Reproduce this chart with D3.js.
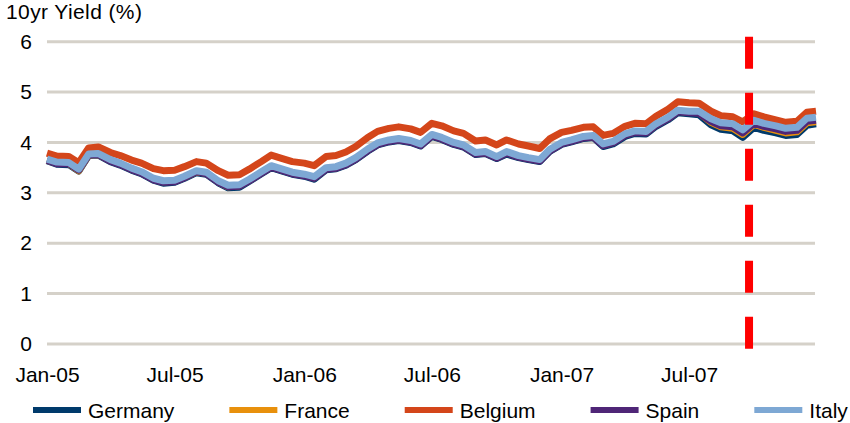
<!DOCTYPE html>
<html>
<head>
<meta charset="utf-8">
<script src="https://cdn.jsdelivr.net/npm/d3@7"></script>
<style>
  body { margin: 0; background: #fff; }
  svg text { font-family: "Liberation Sans", Arial, sans-serif; fill: #000; }
</style>
</head>
<body>
<svg id="chart" width="850" height="423"></svg>
<script>
const dates = [
  "2005-01-01","2005-01-15","2005-02-01","2005-02-15","2005-03-01","2005-03-15","2005-04-01","2005-04-15",
  "2005-05-01","2005-05-15","2005-06-01","2005-06-15","2005-07-01","2005-07-15","2005-08-01","2005-08-15",
  "2005-09-01","2005-09-15","2005-10-01","2005-10-15","2005-11-01","2005-11-15","2005-12-01","2005-12-15",
  "2006-01-01","2006-01-15","2006-02-01","2006-02-15","2006-03-01","2006-03-15","2006-04-01","2006-04-15",
  "2006-05-01","2006-05-15","2006-06-01","2006-06-15","2006-07-01","2006-07-15","2006-08-01","2006-08-15",
  "2006-09-01","2006-09-15","2006-10-01","2006-10-15","2006-11-01","2006-11-15","2006-12-01","2006-12-15",
  "2007-01-01","2007-01-15","2007-02-01","2007-02-15","2007-03-01","2007-03-15","2007-04-01","2007-04-15",
  "2007-05-01","2007-05-15","2007-06-01","2007-06-15","2007-07-01","2007-07-15","2007-08-01","2007-08-15",
  "2007-09-01","2007-09-15","2007-10-01","2007-10-15","2007-11-01","2007-11-15","2007-12-01","2007-12-15",
  "2007-12-28"
];

const germany = [
  3.64,3.57,3.56,3.43,3.74,3.75,3.62,3.55,3.45,3.38,3.25,3.19,3.21,3.29,3.40,3.37,3.20,3.10,3.11,3.23,3.38,3.50,3.43,3.37,
  3.33,3.27,3.46,3.48,3.55,3.66,3.83,3.95,4.01,4.04,4.00,3.93,4.12,4.06,3.96,3.91,3.76,3.78,3.68,3.77,3.70,3.66,3.62,3.82,
  3.96,4.01,4.08,4.10,3.92,3.97,4.12,4.18,4.17,4.32,4.45,4.59,4.57,4.55,4.35,4.26,4.23,4.10,4.30,4.24,4.19,4.14,4.16,4.34,4.37
];
const france = [
  3.65,3.59,3.58,3.44,3.75,3.76,3.64,3.57,3.47,3.40,3.27,3.22,3.23,3.31,3.42,3.39,3.22,3.12,3.14,3.25,3.40,3.52,3.45,3.39,
  3.35,3.30,3.48,3.50,3.57,3.68,3.85,3.97,4.03,4.06,4.02,3.95,4.14,4.08,3.98,3.93,3.78,3.80,3.70,3.80,3.72,3.68,3.64,3.84,
  3.98,4.03,4.10,4.12,3.95,4.00,4.15,4.21,4.20,4.35,4.48,4.62,4.60,4.59,4.40,4.31,4.28,4.16,4.36,4.30,4.24,4.19,4.21,4.39,4.41
];
const belgium = [
  3.79,3.73,3.72,3.60,3.89,3.91,3.80,3.74,3.65,3.59,3.48,3.44,3.45,3.52,3.62,3.59,3.44,3.35,3.36,3.47,3.62,3.75,3.68,3.62,
  3.59,3.54,3.72,3.74,3.81,3.92,4.10,4.22,4.28,4.31,4.27,4.20,4.38,4.33,4.23,4.18,4.03,4.05,3.95,4.05,3.97,3.93,3.88,4.07,
  4.20,4.24,4.30,4.31,4.14,4.18,4.32,4.38,4.37,4.52,4.66,4.81,4.79,4.78,4.62,4.53,4.51,4.41,4.57,4.51,4.45,4.40,4.42,4.60,4.62
];
const spain = [
  3.65,3.58,3.58,3.45,3.75,3.76,3.63,3.56,3.46,3.39,3.26,3.21,3.22,3.30,3.42,3.38,3.21,3.12,3.13,3.24,3.39,3.51,3.44,3.38,
  3.34,3.29,3.47,3.49,3.56,3.67,3.84,3.96,4.02,4.05,4.01,3.94,4.13,4.07,3.97,3.92,3.77,3.79,3.69,3.79,3.71,3.67,3.63,3.83,
  3.97,4.02,4.09,4.11,3.94,3.99,4.14,4.20,4.19,4.34,4.47,4.61,4.59,4.58,4.42,4.33,4.31,4.19,4.38,4.32,4.27,4.22,4.24,4.42,4.44
];
const italy = [
  3.67,3.61,3.60,3.47,3.77,3.78,3.66,3.59,3.49,3.42,3.29,3.24,3.25,3.33,3.44,3.41,3.24,3.15,3.16,3.27,3.42,3.54,3.47,3.41,
  3.37,3.32,3.50,3.52,3.59,3.70,3.87,3.99,4.05,4.08,4.04,3.97,4.16,4.10,4.00,3.95,3.80,3.82,3.72,3.82,3.74,3.70,3.66,3.86,
  4.00,4.05,4.12,4.14,3.97,4.02,4.17,4.23,4.22,4.37,4.50,4.64,4.62,4.62,4.47,4.39,4.37,4.25,4.44,4.38,4.33,4.28,4.30,4.48,4.50
];

const seriesNames = ["Germany", "France", "Belgium", "Spain", "Italy"];
const seriesColors = ["#003a6b", "#e8900c", "#d4461a", "#4f2677", "#7ea8d4"];
const seriesValues = [germany, france, belgium, spain, italy];
const yTicks = [0, 1, 2, 3, 4, 5, 6];
const xTicks = ["2005-01-01","2005-07-01","2006-01-01","2006-07-01","2007-01-01","2007-07-01"];
const markerDate = "2007-09-24";

const parse = d3.timeParse("%Y-%m-%d");
const svg = d3.select("#chart");

const x = d3.scaleTime()
    .domain([parse("2005-01-01"), parse("2007-12-28")])
    .range([47, 816]);
const y = d3.scaleLinear()
    .domain([0, 6])
    .range([344, 41.7]);

// gridlines
svg.append("g")
    .selectAll("line")
    .data(yTicks)
    .enter()
    .append("line")
    .attr("x1", x.range()[0])
    .attr("x2", 815)
    .attr("y1", d => y(d))
    .attr("y2", d => y(d))
    .attr("stroke", "#d5d1c9")
    .attr("stroke-width", 3);

// y labels
svg.append("g")
    .attr("transform", "translate(32,0)")
    .call(d3.axisLeft(y).tickValues(yTicks).tickSize(0).tickPadding(0).tickFormat(d3.format("d")))
    .call(g => g.select(".domain").remove())
    .selectAll("text")
    .attr("font-size", 21)
    .attr("font-family", "Liberation Sans, Arial, sans-serif")
    .attr("fill", "#000");

// x labels
svg.append("g")
    .attr("transform", "translate(0,367)")
    .call(d3.axisBottom(x).tickValues(xTicks.map(parse)).tickSize(0).tickPadding(0).tickFormat(d3.timeFormat("%b-%y")))
    .call(g => g.select(".domain").remove())
    .selectAll("text")
    .attr("font-size", 21)
    .attr("font-family", "Liberation Sans, Arial, sans-serif")
    .attr("fill", "#000");

// title
svg.append("text")
    .attr("x", 6)
    .attr("y", 19)
    .attr("font-size", 21)
    .attr("letter-spacing", 0.4)
    .text("10yr Yield (%)");

// series lines
const line = d3.line()
    .x((d, i) => x(parse(dates[i])))
    .y(d => y(d));

svg.append("g")
    .selectAll("path")
    .data(seriesValues)
    .enter()
    .append("path")
    .attr("d", d => line(d))
    .attr("fill", "none")
    .attr("stroke", (d, i) => seriesColors[i])
    .attr("stroke-width", 7)
    .attr("stroke-linejoin", "round");

// marker
svg.append("line")
    .attr("x1", x(parse(markerDate)))
    .attr("x2", x(parse(markerDate)))
    .attr("y1", y(6) - 5)
    .attr("y2", y(0) + 5)
    .attr("stroke", "#ff0000")
    .attr("stroke-width", 8)
    .attr("stroke-dasharray", "32,24");

// legend
const legend = svg.append("g");
let lx = 33;
seriesNames.forEach((name, i) => {
    legend.append("line")
        .attr("x1", lx).attr("x2", lx + 48)
        .attr("y1", 410).attr("y2", 410)
        .attr("stroke", seriesColors[i])
        .attr("stroke-width", 6);
    const t = legend.append("text")
        .attr("x", lx + 55)
        .attr("y", 418)
        .attr("font-size", 21)
        .text(name);
    lx += 55 + t.node().getComputedTextLength() + 55;
});
</script>
</body>
</html>
